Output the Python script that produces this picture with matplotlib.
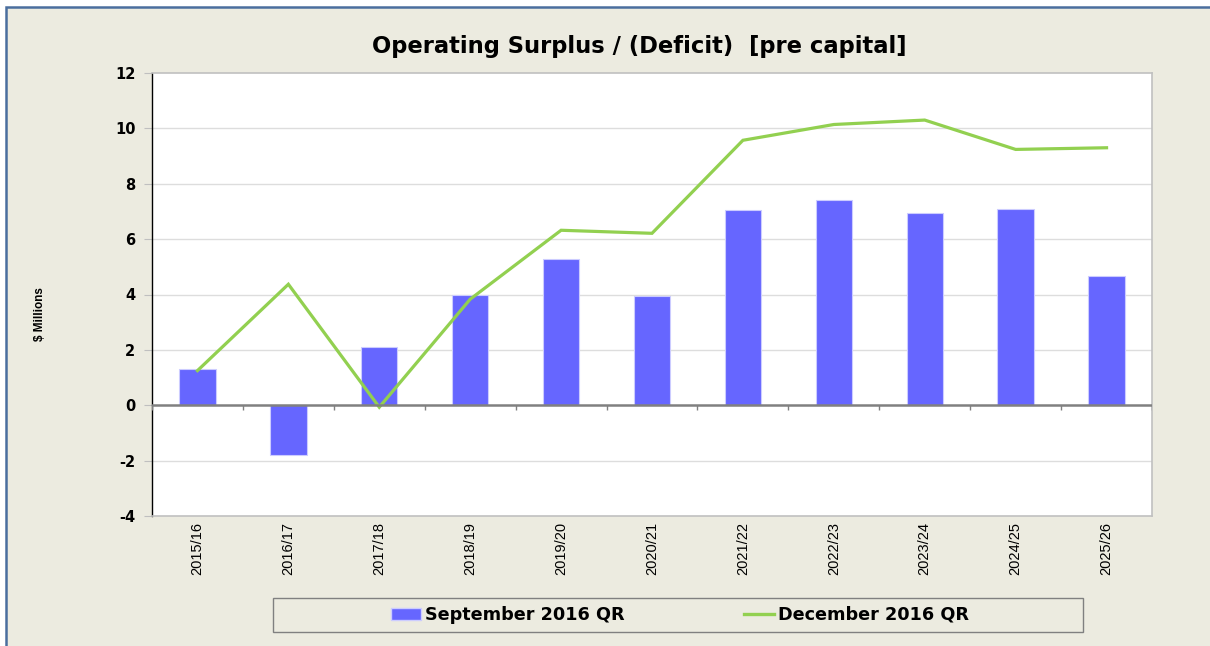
import matplotlib.pyplot as plt
from matplotlib.patches import Rectangle
from matplotlib.lines import Line2D
import numpy as np

# chart data
years = ["2015/16", "2016/17", "2017/18", "2018/19", "2019/20", "2020/21",
         "2021/22", "2022/23", "2023/24", "2024/25", "2025/26"]
sep_2016_qr = [1.3, -1.8, 2.1, 4.0, 5.3, 3.95, 7.05, 7.4, 6.93, 7.1, 4.68]
dec_2016_qr = [1.25, 4.37, -0.07, 3.83, 6.32, 6.21, 9.57, 10.14, 10.3, 9.24, 9.3]
y_ticks = [-4, -2, 0, 2, 4, 6, 8, 10, 12]

W, H = 1210, 646
bg = "#ECEBE0"
bar_col = "#6666FF"
line_col = "#92D050"

fig = plt.figure(figsize=(W / 100, H / 100), dpi=100, facecolor="white")

# beige panel with the blue frame (runs off the right and bottom edges)
fig.patches.append(Rectangle((6 / W, -0.05), 1.1, 1 - 7 / H + 0.05,
                             transform=fig.transFigure, facecolor=bg,
                             edgecolor="#4A6E9E", linewidth=1.8, zorder=-2))

ax = fig.add_axes([152 / W, (H - 516) / H, 1000 / W, 443 / H])
ax.set_facecolor("white")

x = np.arange(len(years))
ax.bar(x, sep_2016_qr, width=0.4, color=bar_col, edgecolor="#CCCCFF",
       linewidth=0.8, zorder=3)
ax.plot(x, dec_2016_qr, color=line_col, linewidth=2.3, zorder=4,
        solid_joinstyle="miter")

ax.set_xlim(-0.5, len(years) - 0.5)
ax.set_ylim(y_ticks[0], y_ticks[-1])
ax.set_yticks(y_ticks)
ax.set_yticklabels([str(v) for v in y_ticks], fontfamily="DejaVu Sans",
                   fontweight="bold", fontsize=10.5)
ax.set_xticks(x)
ax.set_xticklabels(years, rotation=90, fontfamily="Liberation Sans",
                   fontsize=10.5)
ax.tick_params(axis="x", length=0, pad=4)
ax.tick_params(axis="y", length=6, color="#BFBFBF", pad=6)

for v in y_ticks[1:-1]:
    if v != 0:
        ax.axhline(v, color="#DDDDDD", linewidth=1, zorder=1)

# zero axis with small category ticks
ax.axhline(0, color="#808080", linewidth=1.8, zorder=5)
ax.vlines(np.arange(len(years) + 1) - 0.5, -0.16, 0, color="#808080",
          linewidth=1, zorder=5)

for s in ["top", "right", "bottom"]:
    ax.spines[s].set_color("#C0C0C0")
    ax.spines[s].set_linewidth(1.2)
ax.spines["left"].set_color("black")
ax.spines["left"].set_linewidth(1)

fig.text(639 / W, 1 - 47 / H, "Operating Surplus / (Deficit)  [pre capital]",
         ha="center", va="center", fontfamily="DejaVu Sans",
         fontweight="bold", fontsize=16.3)
fig.text(40 / W, 1 - 314 / H, "$ Millions", rotation=90, ha="center",
         va="center", fontfamily="Liberation Sans", fontweight="bold",
         fontsize=8.5)

# legend box
fig.patches.append(Rectangle((273 / W, (H - 632) / H), 810 / W, 34 / H,
                             transform=fig.transFigure, facecolor=bg,
                             edgecolor="#808080", linewidth=1, zorder=-1))
handles = [Rectangle((0, 0), 1, 1, facecolor=bar_col, edgecolor="#CCCCFF"),
           Line2D([], [], color=line_col, linewidth=2.4)]
fig.legend(handles, ["September 2016 QR", "December 2016 QR"],
           loc="center", bbox_to_anchor=(680 / W, 1 - 615 / H), ncol=2,
           frameon=False, handlelength=1.7, handletextpad=0.2,
           columnspacing=6.8,
           prop={"family": "DejaVu Sans", "weight": "bold", "size": 12.7})

fig.savefig("out.png", dpi=100, facecolor="white")
